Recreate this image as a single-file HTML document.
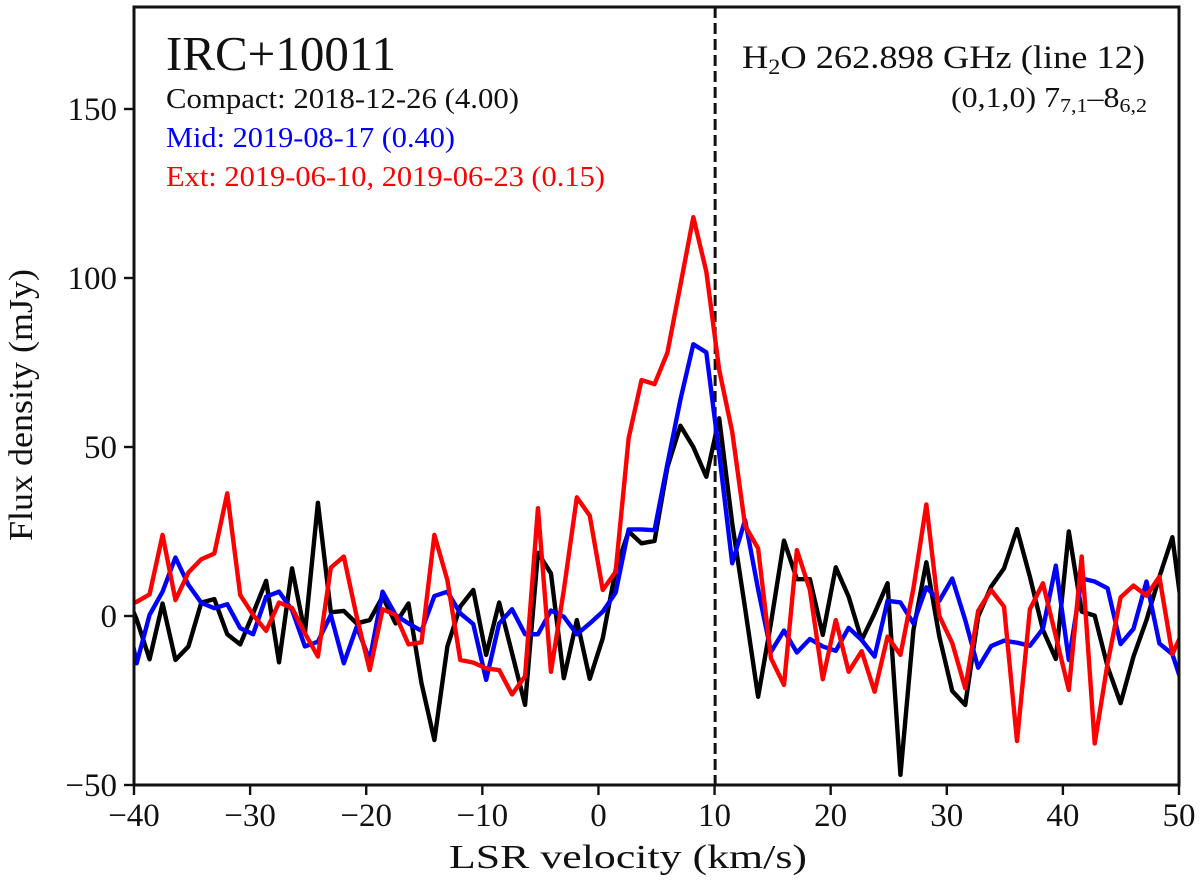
<!DOCTYPE html>
<html lang="en">
<head>
<meta charset="utf-8">
<title>IRC+10011 H2O 262.898 GHz spectrum</title>
<style>
html,body{margin:0;padding:0;background:#fff;}
svg{display:block;}
text{font-family:"Liberation Serif",serif;fill:#111;}
</style>
</head>
<body>
<svg id="chart" xmlns="http://www.w3.org/2000/svg" width="1200" height="889" viewBox="0 0 1200 889">
  <rect x="0" y="0" width="1200" height="889" fill="#fff"/>
  <defs>
    <clipPath id="plot-clip"><rect x="134" y="7" width="1045" height="778"/></clipPath>
  </defs>
  <g id="series-layer" clip-path="url(#plot-clip)"></g>
  <g id="ticks-layer"></g>
  <rect x="134" y="7" width="1045" height="778" fill="none" stroke="#111" stroke-width="3"/>

  <text x="449" y="868" font-size="34" textLength="358" lengthAdjust="spacingAndGlyphs">LSR velocity (km/s)</text>
  <text transform="translate(32,405) rotate(-90)" text-anchor="middle" font-size="34" textLength="272" lengthAdjust="spacingAndGlyphs">Flux density (mJy)</text>

  <text x="166" y="70" font-size="49" textLength="230" lengthAdjust="spacingAndGlyphs">IRC+10011</text>
  <text x="166" y="108" font-size="29" textLength="353" lengthAdjust="spacingAndGlyphs">Compact: 2018-12-26 (4.00)</text>
  <text x="166" y="147" font-size="29" textLength="289" lengthAdjust="spacingAndGlyphs" style="fill:#0000ff">Mid: 2019-08-17 (0.40)</text>
  <text x="166" y="186" font-size="29" textLength="439" lengthAdjust="spacingAndGlyphs" style="fill:#ff0000">Ext: 2019-06-10, 2019-06-23 (0.15)</text>

  <text x="742" y="68" font-size="33" textLength="403" lengthAdjust="spacingAndGlyphs">H<tspan font-size="22" dy="6">2</tspan><tspan dy="-6">O 262.898 GHz (line 12)</tspan></text>
  <text x="951" y="107" font-size="29" textLength="196" lengthAdjust="spacingAndGlyphs">(0,1,0) 7<tspan font-size="20" dy="5">7,1</tspan><tspan dy="-5">–8</tspan><tspan font-size="20" dy="5">6,2</tspan></text>
</svg>
<script>
const velocities = [-40.89,-39.77,-38.66,-37.54,-36.43,-35.31,-34.20,-33.08,-31.97,-30.85,-29.74,-28.62,-27.51,-26.39,-25.28,-24.16,-23.05,-21.93,-20.82,-19.70,-18.59,-17.47,-16.36,-15.24,-14.13,-13.01,-11.90,-10.78,-9.67,-8.55,-7.44,-6.32,-5.21,-4.09,-2.98,-1.86,-0.75,0.37,1.48,2.60,3.71,4.83,5.94,7.06,8.17,9.29,10.40,11.52,12.63,13.75,14.86,15.98,17.09,18.21,19.32,20.44,21.55,22.67,23.78,24.90,26.01,27.13,28.24,29.36,30.47,31.59,32.70,33.82,34.93,36.05,37.16,38.28,39.39,40.51,41.62,42.74,43.85,44.97,46.08,47.20,48.31,49.43,50.54];
const compactFlux = [8,-1,-12.8,3.7,-13,-9,4,5,-5.4,-8.4,0.8,10.4,-13.7,14.1,-5.1,33.5,1.1,1.5,-2.2,-1.2,5.7,-2.2,3.7,-19.9,-36.7,-9,2.8,7.7,-11.5,4,-11,-26.3,18.7,12.6,-18.4,-1.2,-18.6,-6.6,13.6,25,21.5,22.2,44,56.3,50,41.2,58.5,27.4,2.3,-23.9,-2,22.3,10.9,10.9,-5.6,14.4,5.7,-7.1,0.8,9.7,-47,-4.1,15.9,-6.1,-22.2,-26.3,-0.2,8.7,14.1,25.7,11.6,-4.1,-12.7,25,1.3,0.1,-15,-25.8,-12,-1.2,11.6,23.3,-6];
const midFlux = [5,-14,0.3,7.2,17.3,9.2,3.9,2.3,3.5,-3.6,-5.4,5.7,7.2,1.8,-9,-7.6,0.3,-14,-3.2,-13,7.2,0.3,-2.2,-4.4,5.9,7.2,0.8,-2.4,-18.9,-2.2,2,-5.4,-5.4,1.6,-0.2,-5.4,-2.2,1.3,6.9,25.6,25.6,25.4,45,64,80.4,78,48,15.6,28.4,7.9,-10.6,-4.3,-10.8,-6.8,-9,-10.3,-3.5,-7.1,-12,4.5,4,-2.2,8.5,4.5,11.1,-1.2,-15.3,-8.9,-7.3,-7.9,-8.8,-3.8,14.9,-13,11.1,10.2,8.2,-8.3,-3.8,10.2,-8.1,-11.3,-22.9];
const extFlux = [3,4.2,6.4,24,4.7,12.9,16.8,18.5,36.3,6.2,0.3,-4.4,4,2.4,-5.1,-12,14.3,17.6,-0.2,-16,2,0.3,-8.4,-7.8,24,10.6,-13,-13.8,-15.5,-16,-23.2,-17.8,31.9,-16.5,7.7,35.1,29.7,7.7,13.1,52.6,69.8,68.6,77.9,97.9,118,101.9,72.8,54.5,26.7,20,-12.5,-20.4,19.5,7.7,-18.7,-1.2,-16.5,-10.4,-22.4,-6.1,-11.5,8.2,33,0,-8,-21.4,1.5,7.7,2.8,-37,2,9.7,-6,-21.9,17.6,-37.7,-14,5.5,9,6,11.6,-11.3,-3];
const xTicks = [-40,-30,-20,-10,0,10,20,30,40,50];
const yTicks = [-50,0,50,100,150];
const systemVelocity = [10.05];

const NS = 'http://www.w3.org/2000/svg';
const xScale = v => 134 + (v + 40) * (1045 / 90);
const yScale = f => 785 - (f + 50) * 3.38;
const seriesLayer = document.getElementById('series-layer');
const ticksLayer = document.getElementById('ticks-layer');
const fmt = n => String(n).replace('-', '\u2212');

systemVelocity.forEach(v => {
  const line = document.createElementNS(NS, 'line');
  
  
  line.setAttribute('x1', xScale(v));
  line.setAttribute('x2', xScale(v));
  line.setAttribute('y1', 7);
  line.setAttribute('y2', 785);
  line.setAttribute('stroke', '#111');
  line.setAttribute('stroke-width', 3);
  line.setAttribute('stroke-dasharray', '11 5');
  seriesLayer.appendChild(line);
});

function addSeries(values, color, name) {
  const path = document.createElementNS(NS, 'polyline');
  
  
  path.setAttribute('points', values.map((f, i) => xScale(velocities[i]).toFixed(2) + ',' + yScale(f).toFixed(2)).join(' '));
  path.setAttribute('fill', 'none');
  path.setAttribute('stroke', color);
  path.setAttribute('stroke-width', 4.4);
  path.setAttribute('stroke-linejoin', 'round');
  seriesLayer.appendChild(path);
}
addSeries(compactFlux, '#000000', 'compact-series');
addSeries(midFlux, '#0000ff', 'mid-series');
addSeries(extFlux, '#ff0000', 'ext-series');

xTicks.forEach(v => {
  const t = document.createElementNS(NS, 'line');
  
  
  t.setAttribute('x1', xScale(v));
  t.setAttribute('x2', xScale(v));
  t.setAttribute('y1', 785);
  t.setAttribute('y2', 795);
  t.setAttribute('stroke', '#111');
  t.setAttribute('stroke-width', 2.4);
  ticksLayer.appendChild(t);
  const label = document.createElementNS(NS, 'text');
  
  
  label.setAttribute('x', xScale(v));
  label.setAttribute('y', 826);
  label.setAttribute('font-size', 33);
  label.setAttribute('text-anchor', 'middle');
  label.textContent = fmt(v);
  ticksLayer.appendChild(label);
});

yTicks.forEach(f => {
  const t = document.createElementNS(NS, 'line');
  
  
  t.setAttribute('x1', 124);
  t.setAttribute('x2', 134);
  t.setAttribute('y1', yScale(f));
  t.setAttribute('y2', yScale(f));
  t.setAttribute('stroke', '#111');
  t.setAttribute('stroke-width', 2.4);
  ticksLayer.appendChild(t);
  const label = document.createElementNS(NS, 'text');
  
  
  label.setAttribute('x', 117);
  label.setAttribute('y', yScale(f) + 11);
  label.setAttribute('font-size', 33);
  label.setAttribute('text-anchor', 'end');
  label.textContent = fmt(f);
  ticksLayer.appendChild(label);
});
</script>
</body>
</html>
